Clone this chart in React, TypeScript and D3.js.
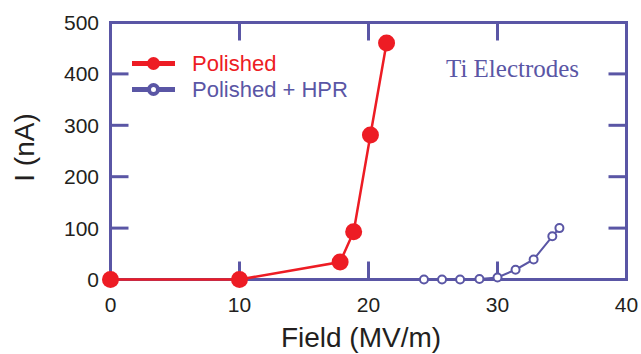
import React from "react";
import * as d3 from "d3";

const polishedField = [0, 10, 17.8, 18.85, 20.15, 21.4];
const polishedCurrent = [0, 0, 34, 93, 281, 460];
const hprField = [24.3, 25.7, 27.1, 28.6, 30.0, 31.4, 32.8, 34.25, 34.8];
const hprCurrent = [0, 0, 0, 1, 4, 19, 39, 84, 100];
const xTicks = [0, 10, 20, 30, 40];
const yTicks = [0, 100, 200, 300, 400, 500];
const seriesNames = ["Polished", "Polished + HPR"];
const annotation = "Ti Electrodes";

const W = 641;
const H = 354;
const RED = "#ed1c24";
const BLUE = "#5a56a5";
const TXT = "#231f20";

export default function App() {
  const x = d3.scaleLinear().domain([0, 40]).range([110.5, 626.5]);
  const y = d3.scaleLinear().domain([0, 500]).range([279.5, 22.5]);
  const line = d3.line<[number, number]>().x((d) => x(d[0])).y((d) => y(d[1]));
  const red: [number, number][] = polishedField.map((f, i) => [f, polishedCurrent[i]]);
  const blue: [number, number][] = hprField.map((f, i) => [f, hprCurrent[i]]);
  const tl = 18;
  const inner = (t: number[]) => t.slice(1, -1);
  return (
    <svg width={W} height={H} style={{ position: "absolute", left: 0, top: 0 }} fontFamily="'Liberation Sans', Arial, sans-serif">
      <rect x={0} y={0} width={W} height={H} fill="#fff" />
      {/* frame */}
      <rect x={x(0)} y={y(500)} width={x(40) - x(0)} height={y(0) - y(500)} fill="none" stroke={BLUE} strokeWidth={3} />
      {inner(xTicks).map((t) => (
        <g key={"xt" + t}>
          <line x1={x(t)} x2={x(t)} y1={y(0)} y2={y(0) - tl} stroke={BLUE} strokeWidth={3} />
          <line x1={x(t)} x2={x(t)} y1={y(500)} y2={y(500) + tl} stroke={BLUE} strokeWidth={3} />
        </g>
      ))}
      {inner(yTicks).map((t) => (
        <g key={"yt" + t}>
          <line x1={x(0)} x2={x(0) + tl} y1={y(t)} y2={y(t)} stroke={BLUE} strokeWidth={3} />
          <line x1={x(40)} x2={x(40) - tl} y1={y(t)} y2={y(t)} stroke={BLUE} strokeWidth={3} />
        </g>
      ))}
      {xTicks.map((t) => (
        <text key={"xl" + t} x={x(t)} y={312} textAnchor="middle" fontSize={21} fill={TXT}>{t}</text>
      ))}
      {yTicks.map((t) => (
        <text key={"yl" + t} x={99} y={y(t) + 7.5} textAnchor="end" fontSize={21} fill={TXT}>{t}</text>
      ))}
      <text x={361} y={347} textAnchor="middle" fontSize={28} fill={TXT}>Field (MV/m)</text>
      <text transform={`translate(34,147.5) rotate(-90)`} textAnchor="middle" fontSize={28} fill={TXT}>I (nA)</text>
      {/* series */}
      <path d={line(blue) || ""} fill="none" stroke={BLUE} strokeWidth={2} />
      {blue.map((d, i) => (
        <circle key={"b" + i} cx={x(d[0])} cy={y(d[1])} r={4} fill="#fff" stroke={BLUE} strokeWidth={2} />
      ))}
      <path d={line(red) || ""} fill="none" stroke={RED} strokeWidth={2.5} />
      {red.map((d, i) => (
        <circle key={"r" + i} cx={x(d[0])} cy={y(d[1])} r={8.5} fill={RED} />
      ))}
      {/* legend */}
      <line x1={132} x2={175} y1={63.5} y2={63.5} stroke={RED} strokeWidth={5} />
      <circle cx={153.5} cy={63.5} r={6.5} fill={RED} />
      <text x={192} y={70.5} fontSize={22} fill={RED}>{seriesNames[0]}</text>
      <line x1={132} x2={175} y1={89.5} y2={89.5} stroke={BLUE} strokeWidth={5} />
      <circle cx={153.5} cy={89.5} r={4.5} fill="#fff" stroke={BLUE} strokeWidth={4} />
      <text x={192} y={96.5} fontSize={22} fill={BLUE}>{seriesNames[1]}</text>
      <text x={446} y={77} fontSize={25} fontFamily="'Liberation Serif', 'Times New Roman', serif" fill={BLUE}>{annotation}</text>
    </svg>
  );
}
